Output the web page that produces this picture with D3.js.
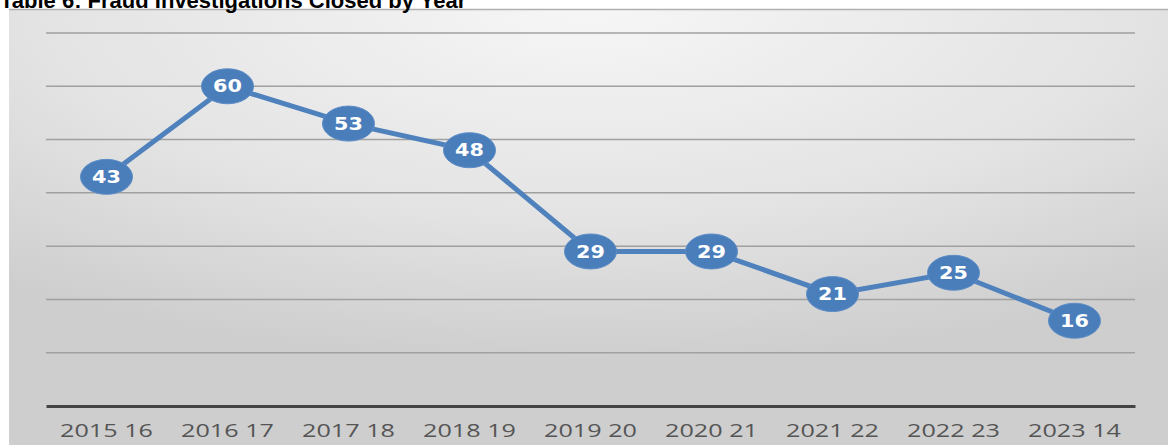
<!DOCTYPE html>
<html>
<head>
<meta charset="utf-8">
<script src="https://cdn.jsdelivr.net/npm/d3@7"></script>
<style>
  body { margin: 0; background: #fff; overflow: hidden; }
</style>
</head>
<body>
<div id="chart"></div>
<script>
var width = 1171;
var height = 445;

const years = ["2015 16", "2016 17", "2017 18", "2018 19", "2019 20", "2020 21", "2021 22", "2022 23", "2023 14"];
const closed = [43, 60, 53, 48, 29, 29, 21, 25, 16];
const yTicks = [10, 20, 30, 40, 50, 60, 70];
const title = "Table 6: Fraud Investigations Closed by Year";

const svg = d3.select("#chart")
    .append("svg")
    .attr("width", width)
    .attr("height", height);

// background panel gradient
var defs = svg.append("defs");
var grad = defs.append("radialGradient")
    .attr("id", "bg")
    .attr("cx", "50%").attr("cy", "0%")
    .attr("r", "80%");
grad.append("stop").attr("offset", "0%").attr("stop-color", "#f6f6f6");
grad.append("stop").attr("offset", "60%").attr("stop-color", "#e3e3e3");
grad.append("stop").attr("offset", "100%").attr("stop-color", "#cecece");

svg.append("rect")
    .attr("x", 9).attr("y", 9)
    .attr("width", 1159).attr("height", 440)
    .attr("fill", "url(#bg)");
svg.append("line")
    .attr("x1", 9).attr("x2", 1168)
    .attr("y1", 9.5).attr("y2", 9.5)
    .attr("stroke", "#b0b0b0")
    .attr("stroke-width", 1.5);

// title sits partly above the page edge, as in the source image
svg.append("text")
    .attr("x", 0)
    .attr("y", 8)
    .attr("font-family", "Liberation Sans, Arial, sans-serif")
    .attr("font-weight", "bold")
    .attr("font-size", 22)
    .attr("fill", "#000")
    .text(title);

var x = d3.scaleBand()
    .domain(years)
    .range([46, 1135]);

var y = d3.scaleLinear()
    .domain([0, 70])
    .range([406, 33]);

// gridlines
svg.selectAll(".grid")
    .data(yTicks)
    .enter().append("line")
    .attr("class", "grid")
    .attr("x1", 46).attr("x2", 1135)
    .attr("y1", function (d) { return y(d); })
    .attr("y2", function (d) { return y(d); })
    .attr("stroke", "#a0a0a0")
    .attr("stroke-width", 1.5);

// x axis
var xAxis = svg.append("g")
    .attr("transform", "translate(0," + y(0) + ")")
    .call(d3.axisBottom(x).tickSize(0).tickPadding(18));
xAxis.select(".domain")
    .attr("stroke", "#444")
    .attr("stroke-width", 3);
xAxis.selectAll("text")
    .attr("font-family", "Open Sans, sans-serif")
    .attr("font-size", 18)
    .attr("fill", "#555")
    .attr("transform", "scale(1.4,1)");

var cx = function (d, i) { return x(years[i]) + x.bandwidth() / 2; };

var line = d3.line()
    .x(function (d, i) { return cx(d, i); })
    .y(function (d) { return y(d); });

svg.append("path")
    .datum(closed)
    .attr("fill", "none")
    .attr("stroke", "#4f81bd")
    .attr("stroke-width", 5)
    .attr("d", line);

var pts = svg.selectAll(".pt")
    .data(closed)
    .enter().append("g")
    .attr("class", "pt")
    .attr("transform", function (d, i) { return "translate(" + cx(d, i) + "," + y(d) + ")"; });

pts.append("ellipse")
    .attr("rx", 26)
    .attr("ry", 17.5)
    .attr("fill", "#4a7ebb")
    .attr("stroke", "#5d8dc6")
    .attr("stroke-width", 1);

pts.append("text")
    .attr("text-anchor", "middle")
    .attr("dy", "0.36em")
    .attr("font-family", "DejaVu Sans, sans-serif")
    .attr("font-weight", "bold")
    .attr("font-size", 17)
    .attr("fill", "#fff")
    .attr("transform", "scale(1.22,1)")
    .text(function (d) { return d; });
</script>
</body>
</html>
